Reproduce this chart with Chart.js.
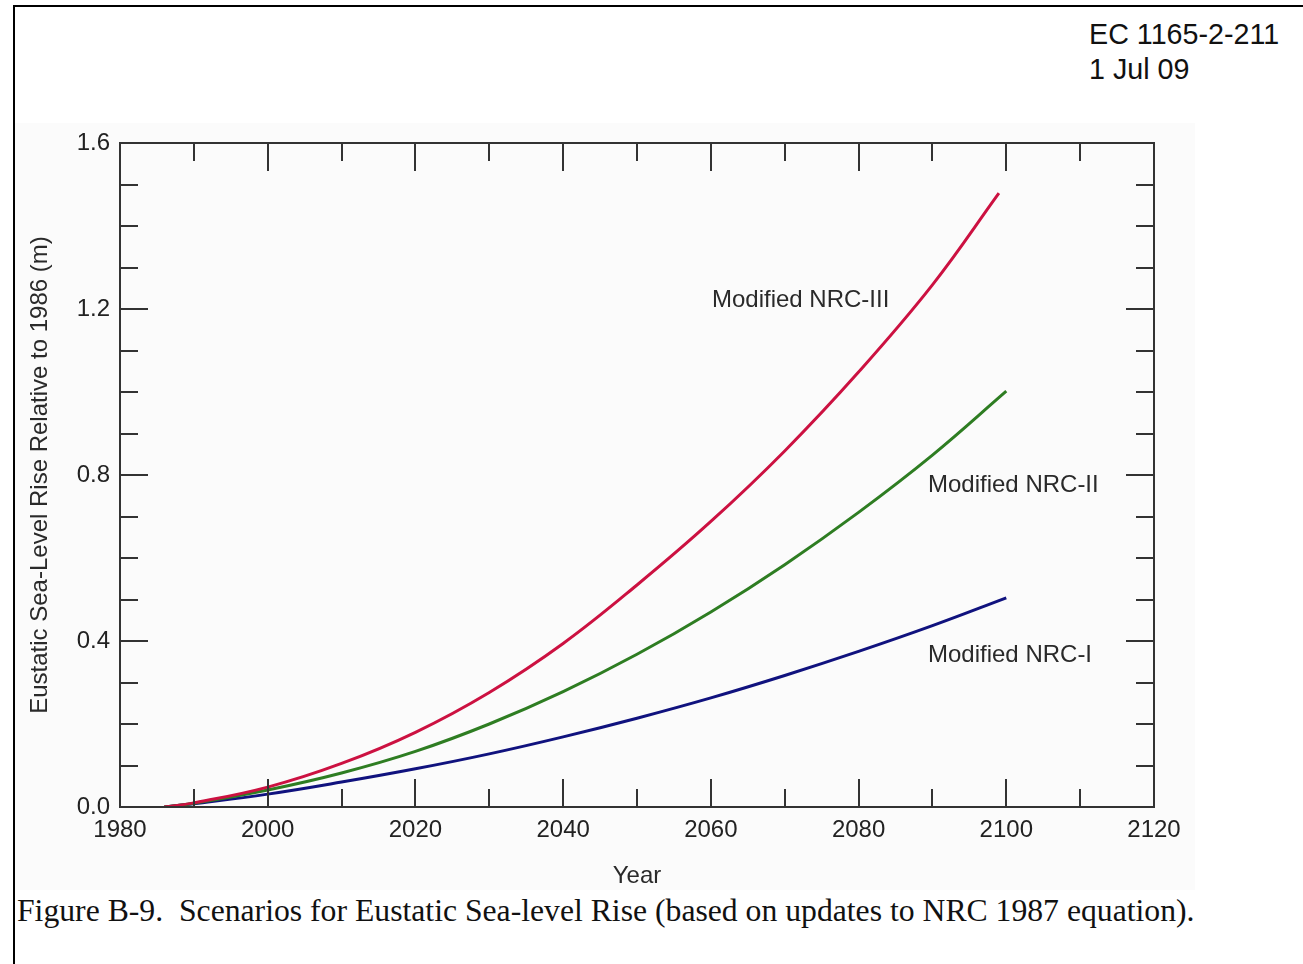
<!DOCTYPE html>
<html><head><meta charset="utf-8">
<script src="https://cdn.jsdelivr.net/npm/chart.js@4.4.1/dist/chart.umd.min.js"></script>
<style>
html,body{margin:0;padding:0;background:#fff;width:1303px;height:964px;overflow:hidden;}
#frame{position:absolute;left:13px;top:5px;width:1400px;height:1000px;border-left:2px solid #000;border-top:2px solid #000;}
#figbg{position:absolute;left:15px;top:123px;width:1180px;height:767px;background:#fbfbfb;}
canvas{position:absolute;left:0;top:0;}
.hdr{position:absolute;left:1089px;font-family:"Liberation Sans",Arial,sans-serif;font-size:28.7px;line-height:32px;color:#111;white-space:pre;}
#cap{position:absolute;left:17px;top:893px;font-family:"Liberation Serif","Times New Roman",serif;font-size:31.7px;line-height:36px;color:#111;white-space:pre;}
</style></head><body>
<div id="figbg"></div>
<div id="frame"></div>
<div class="hdr" style="top:18px">EC 1165-2-211</div>
<div class="hdr" style="top:53px">1 Jul 09</div>
<div id="cap">Figure B-9.  Scenarios for Eustatic Sea-level Rise (based on updates to NRC 1987 equation).</div>
<canvas id="c" width="1303" height="964"></canvas>
<script>
// ---- data ----
const years    = [1986, 1990, 2000, 2010, 2020, 2030, 2040, 2050, 2060, 2070, 2080, 2090, 2100];
const yearsIII = [1986, 1990, 2000, 2010, 2020, 2030, 2040, 2050, 2060, 2070, 2080, 2090, 2099];
const nrcI   = [0, 0.008, 0.031, 0.060, 0.092, 0.128, 0.169, 0.214, 0.263, 0.317, 0.375, 0.437, 0.504];
const nrcII  = [0, 0.009, 0.041, 0.082, 0.134, 0.200, 0.278, 0.368, 0.470, 0.584, 0.710, 0.848, 1.002];
const nrcIII = [0, 0.010, 0.048, 0.105, 0.180, 0.276, 0.394, 0.535, 0.688, 0.858, 1.048, 1.258, 1.479];
const seriesNames = ['Modified NRC-III', 'Modified NRC-II', 'Modified NRC-I'];
const xTitle = 'Year';
const yTitle = 'Eustatic Sea-Level Rise Relative to 1986 (m)';

// ---- axis configuration ----
const xMin = 1980, xMax = 2120, xStep = 10, xLabelStep = 20;
const yMin = 0, yMax = 1.6, yStep = 0.1, yLabelEvery = 4;

// label anchor points (data units)
const labelAnchors = [{x: 2060.15, y: 1.205}, {x: 2089.4, y: 0.759}, {x: 2089.4, y: 0.349}];

const FONT = '"Liberation Sans", Arial, sans-serif';
const AXIS = '#333333';
const colors = ['#cc1141', '#2e7d22', '#10127e'];

const pts = (xs, ys) => xs.map((x, i) => ({x: x, y: ys[i]}));

const decor = {
  id: 'decor',
  afterDraw(chart) {
    const {ctx, chartArea: a, scales: {x, y}} = chart;
    ctx.save();
    ctx.strokeStyle = AXIS;
    ctx.lineWidth = 2;
    ctx.strokeRect(a.left, a.top, a.right - a.left, a.bottom - a.top);
    ctx.beginPath();
    const nx = Math.round((xMax - xMin) / xStep);
    for (let k = 1; k < nx; k++) {
      const v = xMin + k * xStep;
      const px = Math.round(x.getPixelForValue(v));
      const len = (v % xLabelStep === 0) ? 28 : 18;
      ctx.moveTo(px, a.bottom); ctx.lineTo(px, a.bottom - len);
      ctx.moveTo(px, a.top); ctx.lineTo(px, a.top + len);
    }
    const ny = Math.round((yMax - yMin) / yStep);
    for (let k = 1; k < ny; k++) {
      const v = yMin + k * yStep;
      const py = Math.round(y.getPixelForValue(v));
      const len = (k % yLabelEvery === 0) ? 28 : 18;
      ctx.moveTo(a.left, py); ctx.lineTo(a.left + len, py);
      ctx.moveTo(a.right, py); ctx.lineTo(a.right - len, py);
    }
    ctx.stroke();

    // series labels
    ctx.fillStyle = '#2a2a2a';
    ctx.font = '24px ' + FONT;
    ctx.textAlign = 'left';
    ctx.textBaseline = 'alphabetic';
    seriesNames.forEach((n, i) => {
      ctx.fillText(n, x.getPixelForValue(labelAnchors[i].x), y.getPixelForValue(labelAnchors[i].y));
    });

    // axis titles
    ctx.textAlign = 'center';
    ctx.fillText(xTitle, (a.left + a.right) / 2, a.bottom + 76);
    ctx.translate(47, (a.top + a.bottom) / 2);
    ctx.rotate(-Math.PI / 2);
    ctx.fillText(yTitle, 0, 0);
    ctx.restore();
  }
};

new Chart(document.getElementById('c'), {
  type: 'line',
  data: {
    datasets: [
      {label: seriesNames[0], data: pts(yearsIII, nrcIII), borderColor: colors[0]},
      {label: seriesNames[1], data: pts(years, nrcII), borderColor: colors[1]},
      {label: seriesNames[2], data: pts(years, nrcI), borderColor: colors[2]}
    ]
  },
  options: {
    responsive: false,
    animation: false,
    devicePixelRatio: 1,
    elements: {
      line: {borderWidth: 3, tension: 0.4, fill: false},
      point: {radius: 0, hoverRadius: 0}
    },
    layout: {padding: {left: 60, right: 149, top: 143, bottom: 0}},
    plugins: {legend: {display: false}, tooltip: {enabled: false}},
    scales: {
      x: {
        type: 'linear', min: xMin, max: xMax,
        grid: {display: false, drawTicks: false},
        border: {display: false},
        ticks: {
          stepSize: xStep, autoSkip: false, maxRotation: 0, padding: 9,
          color: '#222', font: {family: FONT, size: 24},
          callback: v => (Math.round(v) % xLabelStep === 0) ? String(Math.round(v)) : ''
        },
        afterFit(s) { s.height = 157; }
      },
      y: {
        type: 'linear', min: yMin, max: yMax,
        grid: {display: false, drawTicks: false},
        border: {display: false},
        ticks: {
          stepSize: yStep, autoSkip: false, padding: 10,
          color: '#222', font: {family: FONT, size: 24},
          callback: v => (Math.round(v * 10) % yLabelEvery === 0) ? v.toFixed(1) : ''
        },
        afterFit(s) { s.width = 60; }
      }
    }
  },
  plugins: [decor]
});
</script>
</body></html>
